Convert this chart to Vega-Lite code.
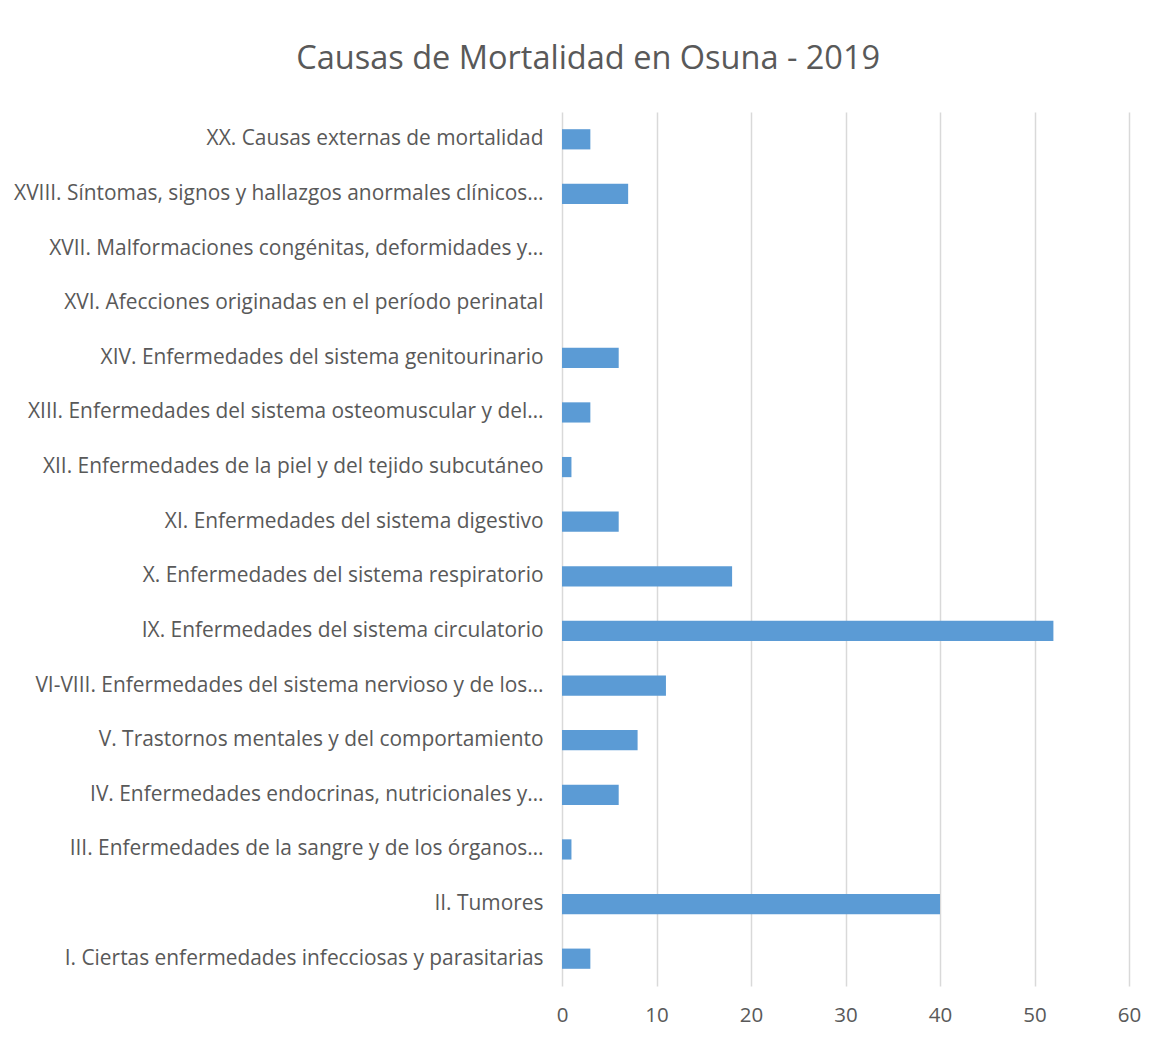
{
  "$schema": "https://vega.github.io/schema/vega-lite/v6.json",
  "width": 567,
  "height": 874,
  "autosize": {"type": "none"},
  "padding": {"left": 562, "top": 112, "right": 29, "bottom": 51},
  "background": "white",
  "title": {
    "text": "Causas de Mortalidad en Osuna - 2019",
    "font": "Open Sans",
    "fontSize": 32.5,
    "fontWeight": "normal",
    "color": "#595959",
    "anchor": "middle",
    "frame": "bounds",
    "offset": 37,
    "dx": 11
  },
  "data": {
    "values": [
      {"causa": "XX. Causas externas de mortalidad", "valor": 3},
      {"causa": "XVIII. Síntomas, signos y hallazgos anormales clínicos…", "valor": 7},
      {"causa": "XVII. Malformaciones congénitas, deformidades y…", "valor": 0},
      {"causa": "XVI. Afecciones originadas en el período perinatal", "valor": 0},
      {"causa": "XIV. Enfermedades del sistema genitourinario", "valor": 6},
      {"causa": "XIII. Enfermedades del sistema osteomuscular y del…", "valor": 3},
      {"causa": "XII. Enfermedades de la piel y del tejido subcutáneo", "valor": 1},
      {"causa": "XI. Enfermedades del sistema digestivo", "valor": 6},
      {"causa": "X. Enfermedades del sistema respiratorio", "valor": 18},
      {"causa": "IX. Enfermedades del sistema circulatorio", "valor": 52},
      {"causa": "VI-VIII. Enfermedades del sistema nervioso y de los…", "valor": 11},
      {"causa": "V. Trastornos mentales y del comportamiento", "valor": 8},
      {"causa": "IV. Enfermedades endocrinas, nutricionales y…", "valor": 6},
      {"causa": "III. Enfermedades de la sangre y de los órganos…", "valor": 1},
      {"causa": "II. Tumores", "valor": 40},
      {"causa": "I. Ciertas enfermedades infecciosas y parasitarias", "valor": 3}
    ]
  },
  "mark": {"type": "bar", "color": "#5B9BD5"},
  "encoding": {
    "y": {
      "field": "causa",
      "type": "nominal",
      "sort": null,
      "title": null,
      "scale": {"paddingInner": 0.63, "paddingOuter": 0.315},
      "axis": {
        "domain": false,
        "ticks": false,
        "grid": false,
        "labelFont": "Open Sans",
        "labelFontSize": 20.9,
        "labelColor": "#595959",
        "labelPadding": 19,
        "labelLimit": 600
      }
    },
    "x": {
      "field": "valor",
      "type": "quantitative",
      "title": null,
      "scale": {"domain": [0, 60], "nice": false},
      "axis": {
        "values": [0, 10, 20, 30, 40, 50, 60],
        "domain": false,
        "ticks": false,
        "grid": true,
        "gridColor": "#D9D9D9",
        "gridWidth": 1.5,
        "labelFont": "Open Sans",
        "labelFontSize": 20.5,
        "labelColor": "#595959",
        "labelPadding": 19,
        "labelFlush": false
      }
    }
  },
  "config": {"view": {"stroke": null}}
}
